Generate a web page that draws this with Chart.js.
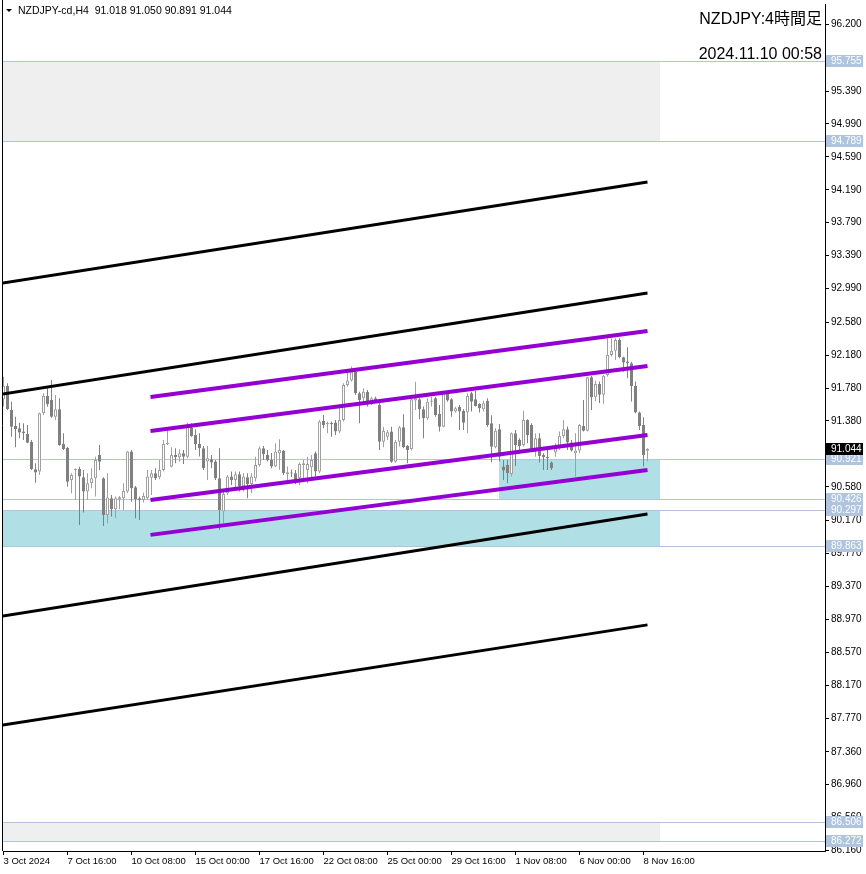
<!DOCTYPE html>
<html><head><meta charset="utf-8">
<script src="https://cdn.jsdelivr.net/npm/chart.js@4/dist/chart.umd.min.js"></script>
<style>html,body{margin:0;padding:0;background:#fff;overflow:hidden}canvas{display:block}</style>
</head><body>
<canvas id="c" width="866" height="874" style="width:866px;height:874px"></canvas>
<script>
// ---- data ----
const xTickIdx = [0,16,32,48,64,80,96,112,128,144,160];
const xTickLabels = ['3 Oct 2024','7 Oct 16:00','10 Oct 08:00','15 Oct 00:00','17 Oct 16:00','22 Oct 08:00','25 Oct 00:00','29 Oct 16:00','1 Nov 08:00','6 Nov 00:00','8 Nov 16:00'];
const yTickValues = [96.200,95.390,94.990,94.590,94.190,93.790,93.390,92.990,92.580,92.180,91.780,91.380,90.580,90.170,89.770,89.370,88.970,88.570,88.170,87.770,87.360,86.960,86.560,86.160];

const opens = [91.644,91.806,91.514,91.320,91.291,91.251,91.222,91.129,90.793,90.765,91.473,91.684,91.635,91.433,91.522,91.101,91.056,90.663,90.785,90.797,90.696,90.522,90.623,90.684,90.967,90.684,90.238,90.441,90.307,90.429,90.441,90.522,91.008,90.574,90.441,90.420,90.441,90.690,90.744,90.696,90.785,91.101,90.825,90.967,90.939,90.987,90.947,91.300,91.211,91.101,
91.049,90.887,90.915,90.887,90.684,90.279,90.502,90.704,90.664,90.733,90.583,90.696,90.615,90.684,90.846,91.049,90.968,90.907,90.826,90.988,91.020,90.737,90.749,90.745,90.684,90.846,90.785,90.818,90.988,90.765,91.381,91.340,91.356,91.361,91.251,91.393,91.818,91.871,91.980,91.717,91.656,91.737,91.596,91.656,
91.575,91.129,91.190,91.251,90.886,91.129,91.303,91.077,91.040,91.628,91.644,91.522,91.413,91.615,91.656,91.465,91.311,91.716,91.644,91.494,91.554,91.506,91.482,91.716,91.644,91.587,91.522,91.627,91.352,
91.061,91.280,90.826,90.846,90.737,91.231,91.150,91.089,91.393,91.332,91.037,91.170,90.968,90.947,90.875,90.996,91.069,91.199,91.280,91.118,90.988,91.020,91.320,
91.263,91.911,91.668,91.830,91.700,91.940,92.183,92.235,92.365,92.154,92.102,92.081,91.806,91.482,91.332,91.018];
const highs = [91.919,91.838,91.615,91.433,91.360,91.352,91.332,91.149,90.866,91.482,91.716,91.777,91.878,91.696,91.656,91.230,91.068,90.744,90.805,90.825,90.785,90.744,90.805,90.947,91.089,90.696,90.744,90.481,90.461,90.469,90.623,91.016,91.028,90.591,90.461,90.510,90.785,90.785,90.805,90.906,91.149,91.271,91.060,91.048,91.036,91.028,91.360,91.352,91.279,91.230,
91.077,91.077,90.968,90.907,91.049,90.522,90.725,90.765,90.765,90.765,90.745,90.745,90.745,90.947,91.069,91.077,91.029,90.990,91.110,91.158,91.029,90.826,90.790,90.785,90.875,90.907,90.947,90.968,91.008,91.393,91.454,91.373,91.373,91.393,91.555,91.839,92.000,92.041,92.000,91.737,91.778,91.757,91.676,91.676,
91.615,91.311,91.271,91.311,91.150,91.320,91.461,91.089,91.656,91.858,91.656,91.555,91.656,91.676,91.676,91.575,91.737,91.749,91.656,91.554,91.575,91.522,91.716,91.737,91.749,91.595,91.627,91.656,91.450,
91.292,91.344,90.907,90.907,91.239,91.271,91.170,91.506,91.401,91.352,91.231,91.231,90.988,91.028,90.887,91.110,91.251,91.393,91.312,91.150,91.231,91.344,91.636,
91.919,91.928,91.870,91.860,91.940,92.385,92.385,92.385,92.385,92.162,92.276,92.101,91.859,91.494,91.425,91.050];
const lows = [91.555,91.514,91.190,91.060,91.170,91.149,91.109,90.785,90.631,90.724,91.453,91.554,91.420,91.392,91.080,91.028,90.582,90.501,90.420,90.117,90.267,90.420,90.562,90.461,90.785,90.105,90.137,90.218,90.198,90.307,90.299,90.501,90.400,90.198,90.177,90.388,90.420,90.481,90.663,90.672,90.765,91.089,90.815,90.866,90.886,90.858,90.927,91.190,91.028,90.950,
90.785,90.664,90.806,90.664,90.056,90.137,90.482,90.603,90.563,90.522,90.522,90.441,90.502,90.644,90.826,90.907,90.887,90.806,90.818,90.786,90.725,90.664,90.700,90.615,90.603,90.664,90.623,90.664,90.704,90.745,91.292,91.231,91.190,91.211,91.231,91.373,91.798,91.859,91.697,91.353,91.575,91.555,91.575,91.600,
91.028,91.060,91.150,90.874,90.874,91.069,91.050,90.866,91.020,91.514,91.401,91.170,91.393,91.555,91.433,91.251,91.303,91.615,91.433,91.482,91.271,91.271,91.230,91.494,91.555,91.482,91.494,91.311,90.880,
91.049,90.887,90.664,90.623,90.704,90.834,90.980,91.069,91.109,91.028,90.947,90.875,90.785,90.785,90.785,90.947,91.028,91.170,91.028,91.008,90.704,90.988,91.251,
91.251,91.514,91.620,91.600,91.590,91.920,92.163,92.122,92.142,91.980,91.899,91.616,91.474,91.272,90.826,90.891];
const closes = [91.806,91.522,91.311,91.279,91.239,91.230,91.117,90.793,90.753,91.473,91.684,91.583,91.433,91.522,91.089,91.040,90.643,90.724,90.797,90.704,90.522,90.623,90.684,90.906,90.886,90.238,90.449,90.307,90.441,90.453,90.530,91.008,90.562,90.429,90.420,90.469,90.704,90.744,90.684,90.785,91.101,91.117,90.967,90.939,90.987,90.947,91.320,91.195,91.100,91.049,
90.806,90.927,90.875,90.684,90.299,90.494,90.704,90.664,90.733,90.583,90.704,90.615,90.704,90.846,91.049,90.976,90.907,90.826,91.008,91.029,90.745,90.757,90.741,90.672,90.858,90.866,90.858,90.907,90.765,91.373,91.332,91.356,91.340,91.251,91.393,91.818,91.871,91.980,91.717,91.636,91.737,91.596,91.656,91.636,
91.129,91.259,91.243,90.886,91.129,91.303,91.060,91.028,91.644,91.656,91.522,91.413,91.615,91.628,91.453,91.311,91.716,91.628,91.494,91.534,91.494,91.360,91.684,91.615,91.563,91.534,91.595,91.332,91.068,
91.263,90.947,90.777,90.745,91.231,91.089,91.077,91.393,91.211,91.037,91.170,90.956,90.939,90.927,90.806,91.069,91.199,91.280,91.118,91.020,91.020,91.332,91.263,
91.911,91.668,91.830,91.700,91.930,92.183,92.235,92.365,92.154,92.090,92.081,91.806,91.482,91.320,90.968,91.044];

const headerText = 'NZDJPY-cd,H4  91.018 91.050 90.891 91.044';
const titleText = 'NZDJPY:4時間足';
const stampText = '2024.11.10 00:58';

const levelPrices = [95.755, 94.789, 90.921, 90.426, 90.297, 89.863, 86.506, 86.272];
const lastPrice = 91.044;

const zoneTops    = [95.755, 90.297, 90.921, 86.506];
const zoneBottoms = [94.789, 89.863, 90.426, 86.272];
const zoneStarts  = [-2, -2, 124, -2];
const zoneEnds    = [164, 164, 164, 164];
const zoneKinds   = ['gray', 'blue', 'blue', 'gray'];

const blackStartIdx = -1, blackEndIdx = 161;
const blackStartPrices = [93.051, 91.702, 89.004, 87.680];
const blackEndPrices   = [94.284, 92.936, 90.250, 88.902];
const purpleStartIdx = 36.75, purpleEndIdx = 161;
const purpleStartPrices = [91.672, 91.259, 90.421, 89.996];
const purpleEndPrices   = [92.474, 92.049, 91.211, 90.785];

// ---- styles ----
const BULL = '#a0a0a0', BEAR = '#808080';
const ZONE = {gray: '#efefef', blue: '#b0e0e6'};
const LEVEL = '#b0c4de';
const FONT = '"Liberation Sans", "Noto Sans CJK JP", Arial, sans-serif';

const idx = opens.map((_, i) => i);
const isBull = idx.map(i => closes[i] >= opens[i]);

const lineSets = [];
purpleStartPrices.forEach((p, k) => lineSets.push({
  type: 'line', data: [{x: purpleStartIdx, y: p}, {x: purpleEndIdx, y: purpleEndPrices[k]}],
  borderColor: '#9400d3', borderWidth: 4, pointRadius: 0, fill: false, tension: 0, order: 0, clip: 0
}));
blackStartPrices.forEach((p, k) => lineSets.push({
  type: 'line', data: [{x: blackStartIdx, y: p}, {x: blackEndIdx, y: blackEndPrices[k]}],
  borderColor: '#000000', borderWidth: 3, pointRadius: 0, fill: false, tension: 0, order: 1, clip: 0
}));

const bodySet = {
  type: 'bar', data: idx.map(i => ({x: i, y: [opens[i], closes[i]]})),
  barThickness: 3, grouped: false, minBarLength: 1, borderWidth: 1, borderSkipped: false, inflateAmount: 0,
  backgroundColor: idx.map(i => isBull[i] ? '#ffffff' : BEAR),
  borderColor: idx.map(i => isBull[i] ? BULL : BEAR), order: 2
};
const wickSet = {
  type: 'bar', data: idx.map(i => ({x: i, y: [lows[i], highs[i]]})),
  barThickness: 1, grouped: false, borderWidth: 0, inflateAmount: 0,
  backgroundColor: idx.map(i => isBull[i] ? BULL : BEAR), order: 3
};

const overlay = {
  id: 'overlay',
  beforeDatasetsDraw(chart) {
    const {ctx, chartArea: a, scales: {x, y}} = chart;
    ctx.save();
    ctx.beginPath(); ctx.rect(a.left, a.top, a.right - a.left, a.bottom - a.top); ctx.clip();
    zoneTops.forEach((t, k) => {
      const x0 = Math.round(x.getPixelForValue(zoneStarts[k]));
      const x1 = Math.round(x.getPixelForValue(zoneEnds[k]));
      const y0 = Math.round(y.getPixelForValue(t));
      const y1 = Math.round(y.getPixelForValue(zoneBottoms[k]));
      ctx.fillStyle = ZONE[zoneKinds[k]];
      ctx.fillRect(x0, y0, x1 - x0, y1 - y0);
    });
    ctx.strokeStyle = LEVEL; ctx.lineWidth = 1;
    levelPrices.forEach(v => {
      const yy = Math.round(y.getPixelForValue(v)) + 0.5;
      ctx.beginPath(); ctx.moveTo(a.left, yy); ctx.lineTo(a.right, yy); ctx.stroke();
    });
    ctx.restore();
  },
  afterDraw(chart) {
    const {ctx, chartArea: a, scales: {y}} = chart;
    ctx.save();
    // left frame
    ctx.strokeStyle = '#000'; ctx.lineWidth = 1;
    ctx.beginPath(); ctx.moveTo(a.left - 0.5, 0); ctx.lineTo(a.left - 0.5, a.bottom); ctx.stroke();
    // price boxes on the axis
    ctx.font = '10px ' + FONT; ctx.textBaseline = 'middle'; ctx.textAlign = 'left';
    const box = (v, bg) => {
      const yy = Math.round(y.getPixelForValue(v));
      ctx.fillStyle = bg; ctx.fillRect(a.right + 1, yy - 6, 37, 12);
      ctx.fillStyle = '#ffffff'; ctx.fillText(v.toFixed(3), a.right + 6, yy + 0.5);
    };
    levelPrices.forEach(v => box(v, LEVEL));
    box(lastPrice, '#000000');
    // header
    ctx.fillStyle = '#000';
    ctx.beginPath(); ctx.moveTo(6, 9); ctx.lineTo(12, 9); ctx.lineTo(9, 12); ctx.closePath(); ctx.fill();
    ctx.font = '10.5px ' + FONT; ctx.textAlign = 'left';
    ctx.fillText(headerText, 18, 11);
    ctx.font = '16px ' + FONT; ctx.textAlign = 'right';
    ctx.fillText(titleText, 822, 20);
    ctx.fillText(stampText, 822, 55);
    ctx.restore();
  }
};

new Chart(document.getElementById('c'), {
  type: 'bar',
  data: {datasets: [...lineSets, bodySet, wickSet]},
  options: {
    responsive: false, maintainAspectRatio: false, animation: false, devicePixelRatio: 1,
    layout: {padding: {left: 3, top: 4, right: 0, bottom: 0}},
    plugins: {legend: {display: false}, tooltip: {enabled: false}, title: {display: false}},
    events: [],
    scales: {
      x: {
        type: 'linear', position: 'bottom', min: -0.125, max: 205.375, offset: false,
        afterBuildTicks: s => { s.ticks = xTickIdx.map(v => ({value: v})); },
        afterFit: s => { s.height = 23; s.paddingLeft = 0; s.paddingRight = 0; },
        ticks: {autoSkip: false, maxRotation: 0, minRotation: 0, align: 'start', padding: 1, color: '#000',
          font: {family: FONT, size: 9.5},
          callback: v => { const k = xTickIdx.indexOf(v); return k >= 0 ? xTickLabels[k] : ''; }},
        grid: {drawOnChartArea: false, drawTicks: true, tickLength: 4, color: '#000', offset: false},
        border: {display: true, color: '#000', width: 1}
      },
      y: {
        type: 'linear', position: 'right', min: 86.154, max: 96.448, beginAtZero: false,
        afterBuildTicks: s => { s.ticks = yTickValues.map(v => ({value: v})); },
        afterFit: s => { s.width = 41; s.paddingTop = 0; s.paddingBottom = 0; },
        ticks: {autoSkip: false, padding: 2, color: '#000', font: {family: FONT, size: 10},
          callback: v => Number(v).toFixed(3)},
        grid: {drawOnChartArea: false, drawTicks: true, tickLength: 4, color: '#000'},
        border: {display: true, color: '#000', width: 1}
      }
    }
  },
  plugins: [overlay]
});
</script>
</body></html>
